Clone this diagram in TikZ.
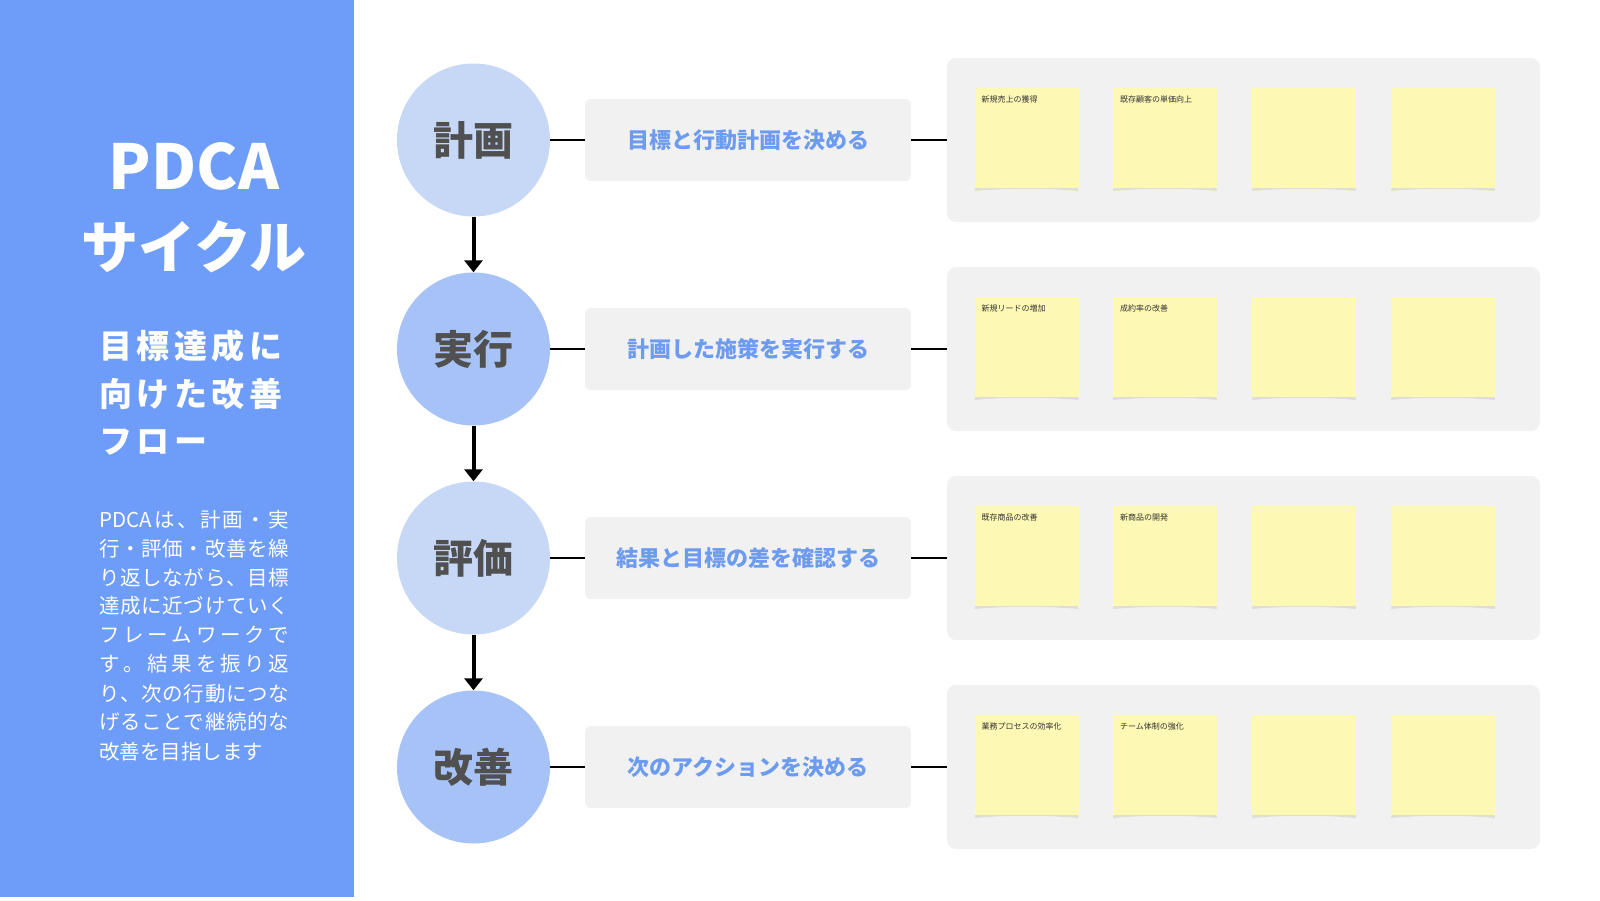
\documentclass[tikz,border=0pt]{standalone}
\usepackage{fontspec}
\setmainfont{Noto Sans CJK JP}
\usetikzlibrary{arrows.meta}
\definecolor{panelblue}{HTML}{6D9CF9}
\definecolor{circA}{HTML}{C6D8F6}
\definecolor{circB}{HTML}{A7C2F6}
\definecolor{boxgray}{HTML}{F1F1F1}
\definecolor{labelblue}{HTML}{6C9BEF}
\definecolor{circtext}{HTML}{505050}
\definecolor{notefill}{HTML}{FEF8B5}
\definecolor{noteshadow}{HTML}{DEDED6}
\definecolor{notetext}{HTML}{333333}
\def\jend{}
\newcommand\jline[2]{\hbox to 190pt{#1\jaux#2\jend}}
\def\jaux#1{\ifx#1\jend\else\hfil#1\expandafter\jaux\fi}
\newcommand\lsline[1]{\lsaux#1\jend}
\def\lsaux#1{\ifx#1\jend\else#1\kern4.5pt\expandafter\lsaux\fi}
\tikzset{
  phase/.style={circle, minimum size=153pt, inner sep=0pt, text=circtext,
    font=\fontsize{40}{44}\selectfont\bfseries},
  labelbox/.style={rectangle, rounded corners=6pt, fill=boxgray, minimum width=326pt,
    minimum height=82pt, inner sep=0pt, text=labelblue, font=\fontsize{22}{26}\selectfont\bfseries},
  groupbox/.style={rectangle, rounded corners=9pt, fill=boxgray, minimum width=593pt,
    minimum height=164pt, inner sep=0pt},
  sticky/.style={rectangle, fill=notefill, minimum width=104pt, minimum height=100pt, inner sep=0pt},
  notelabel/.style={anchor=north west, inner sep=0pt, text=notetext, font=\fontsize{8}{9}\selectfont},
  link/.style={draw=black, line width=1.5pt},
  flow/.style={draw=black, line width=4pt, -{Triangle[length=12pt,width=18pt]}},
  bodyline/.style={anchor=west, inner sep=0pt, text=white, font=\fontsize{20.5}{24}\selectfont},
  subline/.style={anchor=west, inner sep=0pt, text=white, font=\fontsize{33}{38}\selectfont\bfseries},
}
\begin{document}
\begin{tikzpicture}[x=1pt,y=-1pt]
\useasboundingbox (0,0) rectangle (1600,900);
\fill[white] (0,0) rectangle (1600,900);
\fill[panelblue] (0,0) rectangle (354,897);
% left panel texts
\node[inner sep=0pt, text=white, font=\fontsize{62}{70}\selectfont\bfseries] (t1) at (194,166) {PDCA};
\node[inner sep=0pt, text=white, font=\fontsize{57}{64}\selectfont\bfseries] (t2) at (194,247) {サイクル};
\node[subline] (s1) at (99,346) {\lsline{目標達成に}};
\node[subline] (s2) at (99,394) {\lsline{向けた改善}};
\node[subline] (s3) at (99,442) {\lsline{フロー}};
\node[bodyline] (l1) at (99,520) {\jline{PDCA}{は、計画・実}};
\node[bodyline] (l2) at (99,549) {\jline{行}{・評価・改善を繰}};
\node[bodyline] (l3) at (99,578) {\jline{り}{返しながら、目標}};
\node[bodyline] (l4) at (99,606) {\jline{達}{成に近づけていく}};
\node[bodyline] (l5) at (99,635) {\jline{フ}{レームワークで}};
\node[bodyline] (l6) at (99,664) {\jline{す}{。結果を振り返}};
\node[bodyline] (l7) at (99,694) {\jline{り}{、次の行動につな}};
\node[bodyline] (l8) at (99,722) {\jline{げ}{ることで継続的な}};
\node[bodyline] (l9) at (99,752) {改善を目指します};
% rows
\foreach \i/\y/\ph/\col/\lab in {1/140/計画/circA/目標と行動計画を決める,
                                  2/349/実行/circB/計画した施策を実行する,
                                  3/558/評価/circA/結果と目標の差を確認する,
                                  4/767/改善/circB/次のアクションを決める}{
  \node[phase, fill=\col] (c\i) at (473.5,\y) {\ph};
  \node[labelbox] (b\i) at (748,\y) {\lab};
  \node[groupbox] (g\i) at (1243.5,\y) {};
  \foreach \j/\x in {1/1026.5,2/1165,3/1304,4/1443}{
    \fill[noteshadow] (\x-51,\y+46) -- (\x+51,\y+46) -- (\x+52,\y+51)
      .. controls (\x+20,\y+48) and (\x-20,\y+48) .. (\x-52,\y+51) -- cycle;
    \node[sticky] (n\i\j) at (\x,\y-2) {};
  }
  \draw[link] (c\i.east) -- (b\i.west);
  \draw[link] (b\i.east) -- (g\i.west);
}
\node[notelabel] (p11) at ([xshift=7pt,yshift=-8pt]n11.north west) {新規売上の獲得};
\node[notelabel] (p12) at ([xshift=7pt,yshift=-8pt]n12.north west) {既存顧客の単価向上};
\node[notelabel] (p21) at ([xshift=7pt,yshift=-8pt]n21.north west) {新規リードの増加};
\node[notelabel] (p22) at ([xshift=7pt,yshift=-8pt]n22.north west) {成約率の改善};
\node[notelabel] (p31) at ([xshift=7pt,yshift=-8pt]n31.north west) {既存商品の改善};
\node[notelabel] (p32) at ([xshift=7pt,yshift=-8pt]n32.north west) {新商品の開発};
\node[notelabel] (p41) at ([xshift=7pt,yshift=-8pt]n41.north west) {業務プロセスの効率化};
\node[notelabel] (p42) at ([xshift=7pt,yshift=-8pt]n42.north west) {チーム体制の強化};
% flow arrows
\draw[flow] (c1.south) -- (c2.north);
\draw[flow] (c2.south) -- (c3.north);
\draw[flow] (c3.south) -- (c4.north);
\end{tikzpicture}
\end{document}
